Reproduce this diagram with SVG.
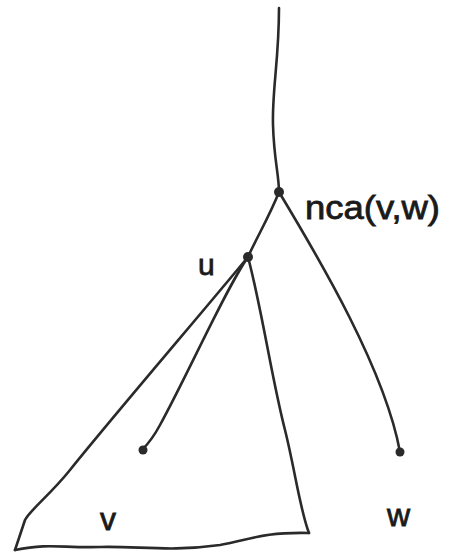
<svg xmlns="http://www.w3.org/2000/svg" width="453" height="558" viewBox="0 0 453 558">
<style>
.e{fill:none;stroke:#2a2a2a;stroke-width:2.6;stroke-linecap:round;stroke-linejoin:round}
.n{fill:#2a2a2a}
.t{font-family:"Liberation Sans",sans-serif;fill:#1a1a1a;stroke:#1a1a1a;stroke-width:0.8}
</style>
<rect width="453" height="558" fill="#fff"/>
<g id="connectors">
<path class="e" d="M279,8 C279,60 272,90 273,125 C274,160 279,175 279,192"/>
<path class="e" d="M279,192 C270,215 258,235 248,257"/>
<path class="e" d="M279,192 C320,260 385,370 400,452"/>
<path class="e" d="M248,257 C200,315 110,420 70,470 C50,495 30,510 25,520 L15,550"/>
<path class="e" d="M248,257 C225,290 190,370 160,425 C153,438 146,446 142,450"/>
<path class="e" d="M248,257 C262,310 272,380 285,430 C295,470 300,510 309,533"/>
<path class="e" d="M15,550 C50,543 60,548 100,547 C140,546 170,552 220,545 C250,540 260,532 309,533"/>
</g>
<g id="nca"><circle class="n" cx="279" cy="192" r="5"/><text class="t" x="305" y="219" font-size="34" textLength="135" lengthAdjust="spacingAndGlyphs">nca(v,w)</text></g>
<g id="u"><circle class="n" cx="248" cy="257" r="5"/><text class="t" x="198" y="275" font-size="30">u</text></g>
<g id="v"><circle class="n" cx="143" cy="450" r="4.5"/><text class="t" x="100" y="530" font-size="32">v</text></g>
<g id="w"><circle class="n" cx="400" cy="452" r="4.5"/><text class="t" x="387" y="526" font-size="32">w</text></g>
</svg>
